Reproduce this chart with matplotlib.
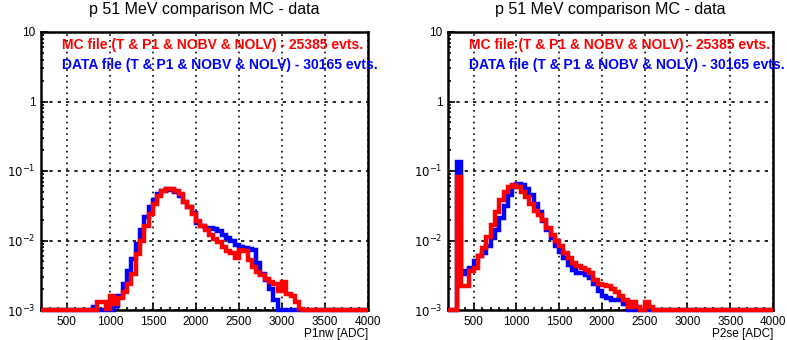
"""
Recreate the two-panel p 51 MeV MC vs data comparison (ROOT-style log histos).
"""

import matplotlib
matplotlib.use("Agg")
import matplotlib.pyplot as plt
import matplotlib.ticker as mticker
import numpy as np

plt.rcParams["font.family"] = ["Liberation Sans", "DejaVu Sans"]

BIN_WIDTH = 50
X_MIN, X_MAX = 200, 4000
Y_MIN, Y_MAX = 1e-3, 10

TITLE = "p 51 MeV comparison MC - data"
MC_LABEL = "MC file (T & P1 & NOBV & NOLV) - 25385 evts."
DATA_LABEL = "DATA file (T & P1 & NOBV & NOLV) - 30165 evts."
XLABELS = ["P1nw [ADC]", "P2se [ADC]"]

# left panel (P1nw): first bin low edge + normalized bin contents
p1_mc_start = 850
p1_mc = [
    1.3e-3, 1.3e-3, 1.05e-3, 1.6e-3, 1.2e-3, 1.5e-3, 1.8e-3, 2.4e-3, 3.3e-3, 6.5e-3,
    1.0e-2, 1.6e-2, 2.4e-2, 3.3e-2, 4.4e-2, 5.2e-2, 5.6e-2, 5.6e-2, 5.2e-2, 4.6e-2,
    3.6e-2, 3.0e-2, 2.4e-2, 1.9e-2, 1.6e-2, 1.4e-2, 1.2e-2, 1.05e-2, 9.5e-3, 8.0e-3,
    7.0e-3, 6.6e-3, 5.6e-3, 7.2e-3, 7.0e-3, 5.2e-3, 4.2e-3, 3.5e-3, 3.2e-3, 2.8e-3,
    2.5e-3, 2.4e-3, 1.9e-3, 2.5e-3, 1.7e-3, 1.6e-3, 1.3e-3, 1.05e-3, 0.9e-3, 1.0e-3,
    1.0e-3, 1.0e-3, 0.9e-3,
]
p1_data_start = 800
p1_data = [
    1.1e-3, 1.0e-3, 0.9e-3, 0.95e-3, 1.0e-3, 1.15e-3, 1.6e-3, 2.4e-3, 3.6e-3, 5.5e-3,
    9.0e-3, 1.4e-2, 2.2e-2, 3.0e-2, 3.8e-2, 4.7e-2, 5.2e-2, 5.5e-2, 5.4e-2, 5.0e-2,
    4.4e-2, 3.6e-2, 3.0e-2, 2.5e-2, 1.8e-2, 1.6e-2, 1.5e-2, 1.5e-2, 1.45e-2, 1.35e-2,
    1.2e-2, 1.1e-2, 1.0e-2, 8.5e-3, 8.0e-3, 7.8e-3, 7.6e-3, 7.4e-3, 4.8e-3, 3.3e-3,
    2.7e-3, 2.0e-3, 1.4e-3, 1.0e-3, 0.9e-3,
]

# right panel (P2se)
p2_mc_start = 300
p2_mc = [
    8.2e-2, 2.2e-3, 2.2e-3, 3.6e-3, 4.0e-3, 5.9e-3, 7.8e-3, 1.14e-2, 1.67e-2, 2.6e-2,
    3.8e-2, 5.0e-2, 5.9e-2, 6.2e-2, 5.9e-2, 5.0e-2, 4.2e-2, 3.4e-2, 2.7e-2, 2.3e-2,
    2.0e-2, 1.5e-2, 1.2e-2, 9.7e-3, 8.2e-3, 6.6e-3, 5.6e-3, 4.8e-3, 4.3e-3, 4.0e-3,
    3.8e-3, 3.4e-3, 2.7e-3, 2.4e-3, 2.3e-3, 2.2e-3, 2.0e-3, 1.8e-3, 1.6e-3, 1.4e-3,
    1.1e-3, 1.3e-3, 1.1e-3, 1.0e-3, 1.3e-3, 1.1e-3, 0.95e-3,
]
p2_data_start = 300
p2_data = [
    1.35e-1, 3.3e-3, 3.7e-3, 4.0e-3, 5.0e-3, 5.9e-3, 6.6e-3, 8.2e-3, 1.07e-2, 1.4e-2,
    2.1e-2, 3.1e-2, 4.5e-2, 5.9e-2, 6.6e-2, 6.2e-2, 5.6e-2, 4.5e-2, 3.4e-2, 2.6e-2,
    1.9e-2, 1.4e-2, 1.07e-2, 8.2e-3, 6.9e-3, 5.6e-3, 4.5e-3, 3.8e-3, 3.4e-3, 3.4e-3,
    3.2e-3, 2.9e-3, 2.4e-3, 1.9e-3, 1.6e-3, 1.5e-3, 1.4e-3, 1.4e-3, 1.5e-3, 1.2e-3,
    0.9e-3,
]


def full_hist(start, values):
    """Pad a partial list of bin contents out to the full 200-4000 range."""
    edges = np.arange(X_MIN, X_MAX + BIN_WIDTH, BIN_WIDTH)
    h = np.zeros(len(edges) - 1)
    i0 = (start - X_MIN) // BIN_WIDTH
    h[i0:i0 + len(values)] = values
    # ROOT draws empty / underflowing bins along the bottom of a log axis
    return edges, np.clip(h, Y_MIN, None)


def log_label(v, pos):
    if v >= 10:
        return "10"
    if v == 1:
        return "1"
    return r"$10^{%d}$" % int(round(np.log10(v)))


def draw_panel(ax, mc, data, xlabel):
    ax.set_yscale("log")
    ax.set_xlim(X_MIN, X_MAX)
    ax.set_ylim(Y_MIN, Y_MAX)

    edges, h = full_hist(*data)
    ax.stairs(h, edges, color="#0000ff", lw=3.2, baseline=None, clip_on=False, zorder=3)
    edges, h = full_hist(*mc)
    ax.stairs(h, edges, color="#ff0000", lw=3.2, baseline=None, clip_on=False, zorder=4)

    ax.xaxis.set_major_locator(mticker.MultipleLocator(500))
    ax.xaxis.set_minor_locator(mticker.MultipleLocator(100))
    ax.yaxis.set_major_locator(mticker.LogLocator(base=10, numticks=10))
    ax.yaxis.set_minor_locator(mticker.LogLocator(base=10, subs=np.arange(2, 10), numticks=10))
    ax.yaxis.set_major_formatter(mticker.FuncFormatter(log_label))
    ax.yaxis.set_minor_formatter(mticker.NullFormatter())
    ax.tick_params(which="both", direction="in", top=False, right=False,
                   labelsize=8.5, width=1.2, pad=4)
    ax.tick_params(which="major", length=5)
    ax.tick_params(which="minor", length=2.5)

    ax.grid(True, which="major", axis="x", color="black", lw=1.2, ls=(0, (1, 2.5)))
    ax.grid(True, which="major", axis="y", color="black", lw=1.2, ls=(0, (2, 3)))
    for s in ax.spines.values():
        s.set_linewidth(1.8)

    ax.set_xlabel(xlabel, loc="right", fontsize=8.5, labelpad=0)
    ax.set_title(TITLE, fontsize=11.5, pad=13)

    ax.text(0.064, 0.953, MC_LABEL, transform=ax.transAxes, color="#ff0000",
            fontsize=10, fontweight="bold", va="center", ha="left", zorder=6)
    ax.text(0.064, 0.881, DATA_LABEL, transform=ax.transAxes, color="#0000ff",
            fontsize=10, fontweight="bold", va="center", ha="left", zorder=6)


fig = plt.figure(figsize=(7.87, 3.40), dpi=100)
ax1 = fig.add_axes([41 / 787, 30 / 340, 327 / 787, 278 / 340])
ax2 = fig.add_axes([448 / 787, 30 / 340, 325 / 787, 278 / 340])

draw_panel(ax1, (p1_mc_start, p1_mc), (p1_data_start, p1_data), XLABELS[0])
draw_panel(ax2, (p2_mc_start, p2_mc), (p2_data_start, p2_data), XLABELS[1])

fig.savefig("out.png", dpi=100)
